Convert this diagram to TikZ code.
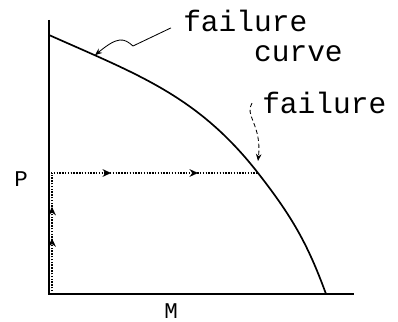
\documentclass[tikz,border=0pt]{standalone}
\usepackage{fontspec}
\setmonofont{Liberation Mono}
\usepackage{tikz}
\usetikzlibrary{arrows.meta, decorations.markings}

\begin{document}
\begin{tikzpicture}[
	axis/.style={line width=1.5pt},
	failcurve/.style={line width=1.2pt},
	loadpath/.style={densely dotted, line width=1pt, postaction={decorate},
		decoration={markings,
			mark=at position #1 with {\arrow{Stealth[length=6pt,width=5.5pt]}}}},
	leader/.style={line width=0.6pt, -{Stealth[length=5pt,width=4pt]}},
	lbl/.style={font=\ttfamily\fontsize{21}{21}\selectfont, inner sep=0pt, align=left},
	axlbl/.style={font=\ttfamily\fontsize{16}{16}\selectfont, inner sep=0pt}
	]
			\useasboundingbox (-1.225,-0.7) rectangle (8.725,7.35);
			\coordinate (O) at (0,0);
			\coordinate (Ytop) at (0,6.85);
			\coordinate (Xend) at (7.625,0);
			\coordinate (A) at (0,6.475);
			\coordinate (F) at (5.225,3.025);
			\coordinate (E) at (6.925,0);
			\coordinate (Fc) at (1.15,5.97);
			
			\draw[axis] (Ytop) -- (O) -- (Xend);
			\draw[failcurve] (A) to[out=-24,in=128] (F) to[out=-52,in=110] (E);
			
			\foreach \from/\to/\pos in {
				{0.075,0}/{0.075,3.025}/0.46,
				{0.075,0}/{0.075,3.025}/0.72,
				{0.05,3.025}/F/0.29,
				{0.05,3.025}/F/0.71
			}{
				\draw[loadpath=\pos] (\from) -- (\to);
			}
			
			\node[axlbl] (p) at (-0.7,2.875) {P};
			\node[axlbl] (m) at (3.05,-0.425) {M};
			
			\node[lbl, anchor=north west] (fc) at (3.35,7.1) {failure\\\hphantom{fail}curve};
			\node[lbl, anchor=north west] (fl) at (5.325,5.05) {failure};
			
			\draw[leader] ([shift={(-0.3,0.2)}]fc.west) -- (2.1,6.2)
				.. controls (1.875,6.4) and (1.725,6.45) .. (Fc);
			\draw[leader, densely dashed] ([xshift=-0.25cm]fl.west)
				.. controls (4.875,4.475) and (5.325,4.225) .. ([yshift=0.3cm]F);
		\end{tikzpicture}
\end{document}
